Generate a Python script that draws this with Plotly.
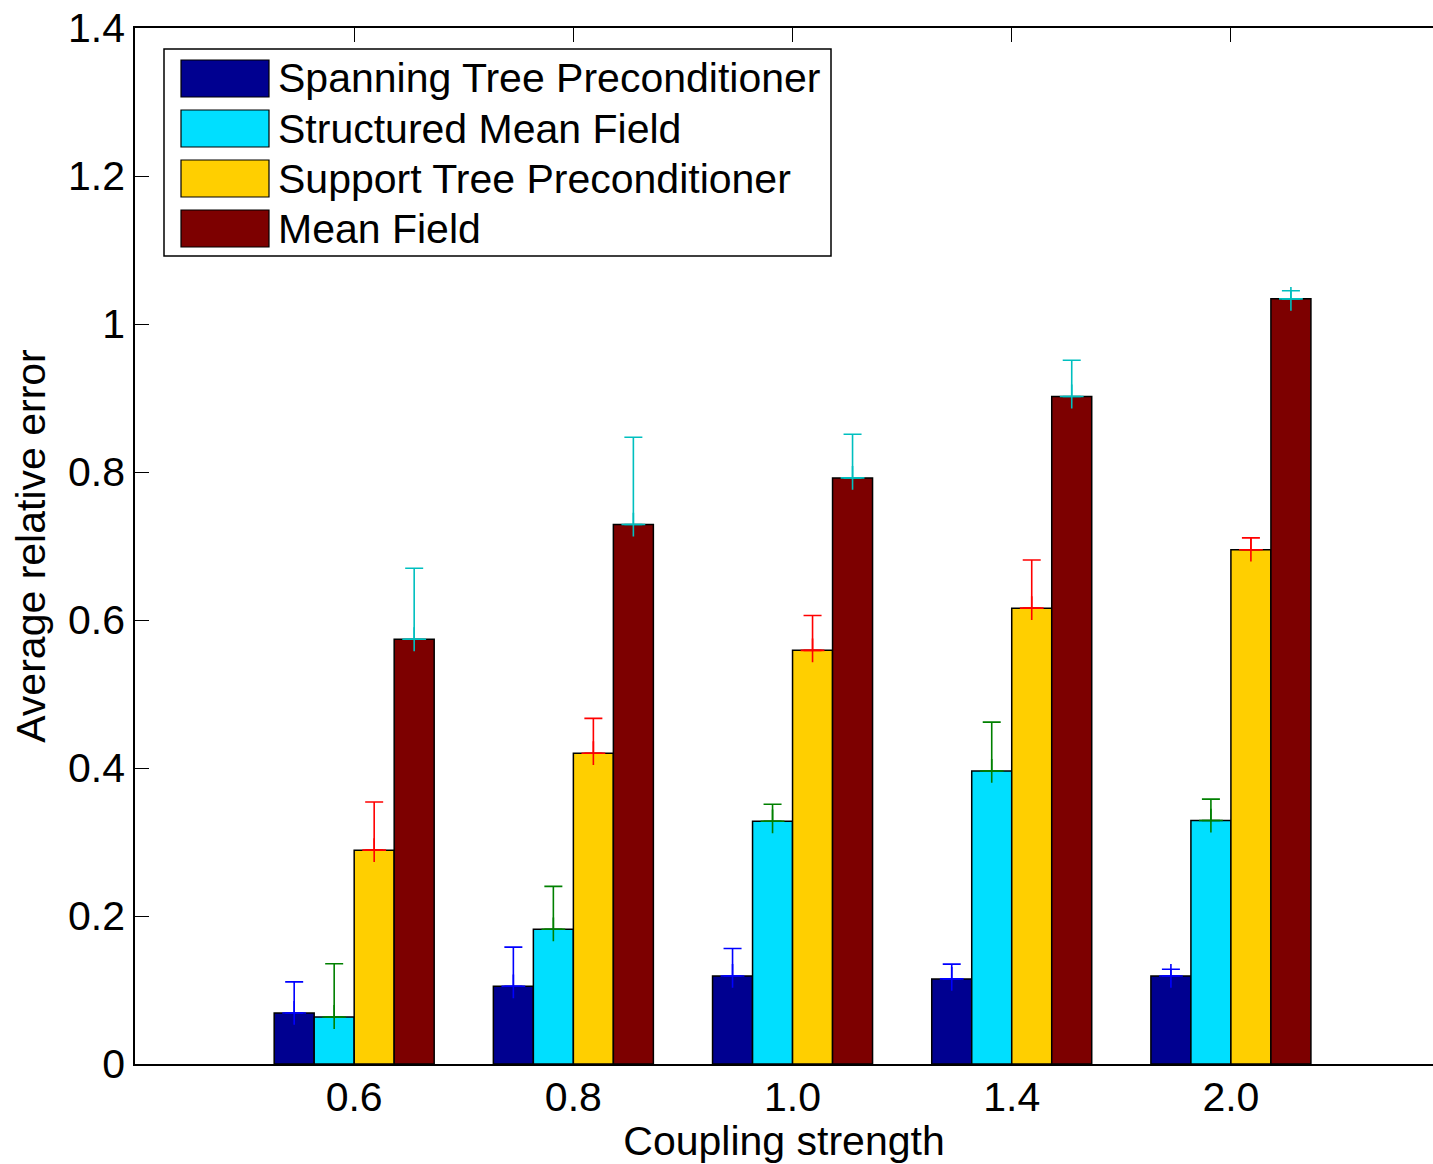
import plotly.graph_objects as go

categories = ["0.6", "0.8", "1.0", "1.4", "2.0"]
series_names = ["Spanning Tree Preconditioner", "Structured Mean Field",
                "Support Tree Preconditioner", "Mean Field"]

spanning = [0.069, 0.105, 0.119, 0.115, 0.119]
structured = [0.0635, 0.182, 0.328, 0.396, 0.329]
support = [0.289, 0.420, 0.559, 0.616, 0.695]
mean_field = [0.574, 0.729, 0.792, 0.902, 1.034]

spanning_err = [0.042, 0.053, 0.037, 0.020, 0.009]
structured_err = [0.072, 0.058, 0.023, 0.066, 0.029]
support_err = [0.065, 0.047, 0.047, 0.065, 0.016]
mean_field_err = [0.096, 0.118, 0.059, 0.049, 0.011]

values = [spanning, structured, support, mean_field]
errors = [spanning_err, structured_err, support_err, mean_field_err]

bar_colors = ["#000090", "#00DFFF", "#FFCF00", "#7D0000"]
err_colors = ["#0000FF", "#008000", "#FF0000", "#00BFBF"]

FONT = "Liberation Sans, Arial, sans-serif"
FS = 41
BARGAP = 0.27
n_series = len(values)
bar_w = (1 - BARGAP) / n_series

xpos = list(range(1, len(categories) + 1))

fig = go.Figure()
for k in range(n_series):
    fig.add_trace(go.Bar(
        x=xpos, y=values[k], name=series_names[k],
        marker=dict(color=bar_colors[k], line=dict(color="black", width=1.5)),
        showlegend=False,
    ))

for k in range(n_series):
    off = (k - (n_series - 1) / 2) * bar_w
    fig.add_trace(go.Scatter(
        x=[x + off for x in xpos], y=values[k], mode="markers",
        marker=dict(symbol="cross-thin", size=17,
                    line=dict(color=err_colors[k], width=1.6)),
        error_y=dict(type="data", array=errors[k], arrayminus=[0] * len(xpos),
                     color=err_colors[k], thickness=1.6, width=9),
        showlegend=False, hoverinfo="skip",
    ))

W, H = 1433, 1164
L, R, T, B = 135, 0, 28, 100
pw, ph = W - L - R, H - T - B

def px(x):
    return (x - L) / pw

def py(y):
    return (H - B - y) / ph

shapes = [dict(type="rect", xref="paper", yref="paper",
               x0=px(164), x1=px(831), y0=py(256), y1=py(49),
               line=dict(color="black", width=1.5), fillcolor="white", layer="above")]
annotations = []
row0, row_step = 78.5, 50
for k, name in enumerate(series_names):
    cy = row0 + k * row_step
    shapes.append(dict(type="rect", xref="paper", yref="paper",
                       x0=px(181), x1=px(269), y0=py(cy + 18.5), y1=py(cy - 18.5),
                       line=dict(color="black", width=1.2), fillcolor=bar_colors[k],
                       layer="above"))
    annotations.append(dict(xref="paper", yref="paper", x=px(276), y=py(cy),
                            xanchor="left", yanchor="middle", text=name,
                            showarrow=False, font=dict(family=FONT, size=FS, color="black")))

fig.update_layout(
    width=W, height=H,
    margin=dict(l=L, r=R, t=T, b=B),
    plot_bgcolor="white", paper_bgcolor="white",
    barmode="group", bargap=BARGAP, bargroupgap=0,
    font=dict(family=FONT, size=FS, color="black"),
    shapes=shapes, annotations=annotations,
    xaxis=dict(range=[0, 5.922], tickvals=xpos, ticktext=categories,
               ticks="inside", ticklen=14, tickwidth=1.2, tickcolor="black",
               ticklabelstandoff=-4,
               showline=True, linecolor="black", linewidth=1.5, mirror="ticks",
               showgrid=False, zeroline=False,
               title=dict(text="Coupling strength", standoff=8,
                          font=dict(family=FONT, size=FS))),
    yaxis=dict(range=[0, 1.4], tickvals=[0, 0.2, 0.4, 0.6, 0.8, 1.0, 1.2, 1.4],
               ticktext=["0", "0.2", "0.4", "0.6", "0.8", "1", "1.2", "1.4"],
               ticks="inside", ticklen=14, tickwidth=1.2, tickcolor="black",
               ticklabeloverflow="allow",
               showline=True, linecolor="black", linewidth=1.5, mirror=False,
               showgrid=False, zeroline=False,
               title=dict(text="Average relative error", standoff=10,
                          font=dict(family=FONT, size=FS))),
)

fig.write_html("out.html", config={"displayModeBar": False},
               post_script="document.body.style.margin='0';"
                           "document.body.style.overflow='hidden';")
